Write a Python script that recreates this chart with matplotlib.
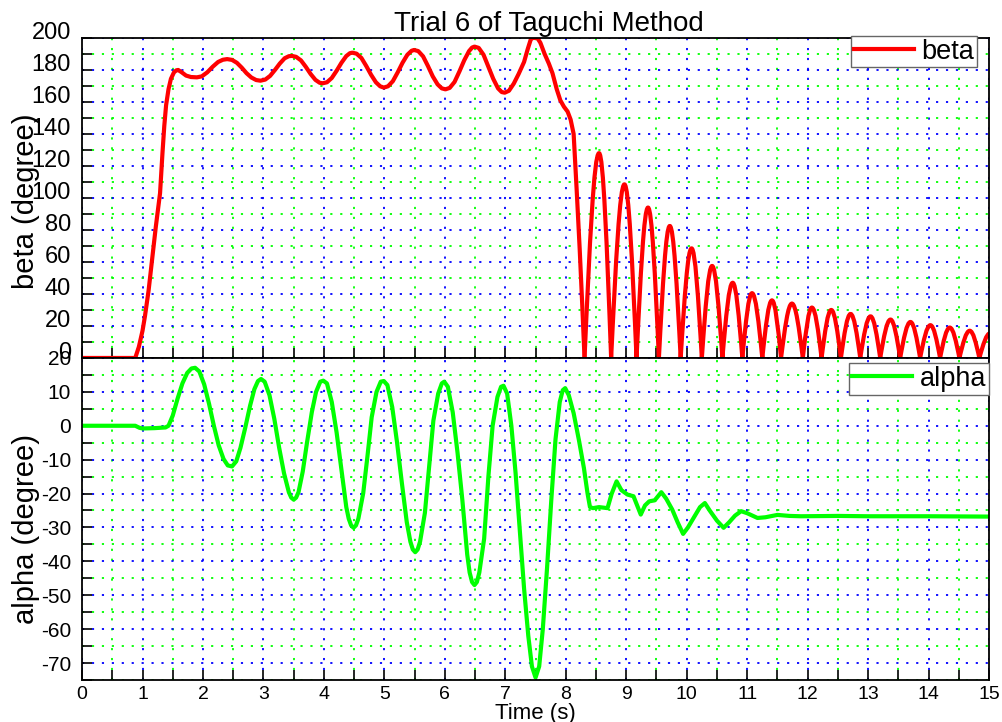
import numpy as np
import matplotlib
matplotlib.use("Agg")
import matplotlib.pyplot as plt
from matplotlib.ticker import MultipleLocator
from matplotlib.path import Path
from matplotlib.patches import PathPatch
from matplotlib import transforms

plt.rcParams['font.family'] = ['Liberation Sans', 'DejaVu Sans']
plt.rcParams['axes.unicode_minus'] = False

# beta: take-off and swinging part (time in s, angle in degree)
beta_t = [0.0, 0.88, 0.94, 1.0, 1.04, 1.10, 1.16, 1.22, 1.29, 1.33, 1.36, 1.39, 1.43,
          1.47, 1.52, 1.56, 1.59, 1.65, 1.72, 1.80, 1.90, 1.98, 2.07, 2.16, 2.25,
          2.33, 2.40, 2.48, 2.56, 2.64, 2.72, 2.80, 2.88, 2.95, 3.03, 3.11, 3.19,
          3.27, 3.35, 3.42, 3.47, 3.54, 3.62, 3.70, 3.78, 3.86, 3.93, 3.98, 4.05,
          4.13, 4.21, 4.29, 4.37, 4.43, 4.47, 4.54, 4.62, 4.70, 4.78, 4.86, 4.93,
          4.99, 5.06, 5.14, 5.22, 5.30, 5.38, 5.45, 5.49, 5.56, 5.64, 5.72, 5.80,
          5.88, 5.95, 6.01, 6.08, 6.16, 6.24, 6.32, 6.40, 6.45, 6.49, 6.56, 6.64,
          6.72, 6.80, 6.88, 6.94, 6.99, 7.06, 7.14, 7.22, 7.31, 7.37, 7.42, 7.45,
          7.53, 7.58, 7.65, 7.72, 7.78, 7.85, 7.91, 7.97, 8.03, 8.08, 8.13, 8.18,
          8.23, 8.27, 8.31]
beta_v = [0, 0, 7, 17, 26, 42, 62, 82, 103, 128, 145, 158, 168,
          174.5, 178.5, 179.8, 180, 178.5, 176.5, 175.6, 175.4, 176, 178.5, 182, 185,
          186.4, 186.8, 186.3, 184.5, 181.5, 178, 175.3, 173.7, 173.3, 174, 176.3, 180,
          184, 187.3, 188.6, 188.8, 188.2, 186, 182, 177.5, 173.8, 172, 171.7, 172.3,
          175, 179.5, 184.5, 188.7, 190.5, 190.8, 190.2, 187.5, 182.5, 177, 172.3, 169.8,
          169, 169.8, 173, 178.5, 184.5, 189.5, 192, 192.5, 191.8, 188.5, 182.5, 176,
          171, 168.5, 167.9, 168.8, 172.5, 179, 186, 191.8, 194, 194.6, 193.8, 189.5,
          182, 174.5, 168.5, 166.2, 165.8, 167, 171.5, 177.5, 185, 193, 199, 200,
          200, 197, 190, 184, 178, 168, 161, 157, 154, 149, 140, 105,
          68, 35, 0]

# beta after 8.3 s: arcs between ground contacts
arc_cusp_t = [8.31, 8.75, 9.17, 9.54, 9.90, 10.25, 10.59, 10.92, 11.25, 11.56, 11.92,
              12.23, 12.55, 12.87, 13.20, 13.53, 13.86, 14.19, 14.51, 14.84, 15.19]
arc_peak_t = [8.55, 8.97, 9.36, 9.72, 10.08, 10.42, 10.76, 11.08, 11.41, 11.74, 12.07,
              12.39, 12.71, 13.04, 13.37, 13.70, 14.03, 14.35, 14.68, 15.02]
arc_peak_v = [128, 108.5, 94, 82.5, 68.5, 57.5, 47, 40.5, 36, 34, 31.5,
              30, 27.5, 26, 24, 22.5, 20.5, 19, 17, 15.5]

# alpha (time in s, angle in degree)
alpha_t = [0.0, 0.88, 0.95, 1.0, 1.2, 1.38, 1.43, 1.5, 1.58, 1.66, 1.74, 1.81, 1.87,
           1.94, 2.02, 2.10, 2.18, 2.26, 2.34, 2.41, 2.48, 2.55, 2.62, 2.70, 2.78,
           2.85, 2.91, 2.96, 3.02, 3.10, 3.18, 3.26, 3.34, 3.42, 3.46, 3.50, 3.54,
           3.58, 3.65, 3.72, 3.80, 3.87, 3.94, 3.99, 4.05, 4.13, 4.21, 4.29, 4.37,
           4.41, 4.45, 4.49, 4.53, 4.57, 4.65, 4.72, 4.79, 4.87, 4.94, 4.99, 5.05,
           5.13, 5.21, 5.29, 5.37, 5.43, 5.47, 5.51, 5.55, 5.59, 5.67, 5.74, 5.81,
           5.89, 5.95, 5.99, 6.05, 6.13, 6.21, 6.29, 6.37, 6.41, 6.45, 6.49, 6.53,
           6.57, 6.65, 6.72, 6.79, 6.87, 6.93, 6.97, 7.03, 7.10, 7.17, 7.24, 7.31,
           7.38, 7.44, 7.50, 7.56, 7.62, 7.69, 7.76, 7.83, 7.90, 7.95, 7.99, 8.05,
           8.13, 8.22, 8.30, 8.36, 8.40, 8.45, 8.55, 8.69, 8.76, 8.84, 8.92, 9.02,
           9.12, 9.24, 9.31, 9.38, 9.47, 9.58, 9.66, 9.76, 9.85, 9.94, 10.02, 10.12,
           10.22, 10.30, 10.38, 10.50, 10.61, 10.70, 10.80, 10.90, 11.0, 11.17, 11.3,
           11.5, 11.7, 11.89, 12.5, 13.0, 14.0, 15.0]
alpha_v = [0, 0, -0.6, -0.8, -0.7, -0.5, 0, 3, 8, 12.5, 15.6, 16.9, 17.1,
           16, 12.2, 6.5, 0, -5.8, -9.8, -11.7, -12, -10.5, -6.5, -0.5, 6,
           10.8, 13.2, 13.8, 13, 9, 2, -6.5, -14, -19.6, -21.2, -21.8, -21.2,
           -19.6, -13.5, -5, 4, 10, 13, 13.3, 12.5, 7, -2, -13, -24,
           -27.4, -29.4, -30.1, -29.4, -27.4, -19.9, -9, 2.5, 10, 13, 13.2, 12,
           5.5, -5, -17, -28.4, -34.2, -36.5, -37.3, -36.5, -34.2, -25.7, -12, 1.5,
           9.5, 12.5, 13, 11.5, 4, -8, -22, -38, -43.3, -46.1, -47, -46.1,
           -43.3, -33.3, -15, 0, 8.5, 11.5, 11.8, 9.5, 0, -14, -31, -48,
           -62, -71, -74.3, -71, -60, -42, -22, -4, 7, 10.5, 11.1, 9,
           3.7, -4.5, -12.5, -20, -24, -24.3, -24, -24.3, -20, -16.4, -19, -20.3,
           -20.8, -26.2, -23.5, -22.3, -22, -19.6, -21.5, -24.7, -28.5, -31.9, -30, -27,
           -24, -22.8, -25, -28, -30.1, -28.5, -26.5, -25.2, -25.8, -27.2, -27,
           -26.3, -26.6, -26.7, -26.6, -26.7, -26.7, -26.8]

RED = (1, 0, 0)
GREEN = (0, 1, 0)
LW = 3.0


def arc_path(cusps, peak_t, peak_v):
    # each arc is two cubic curves: steep off the ground, flat over the top
    verts = [(cusps[0], 0)]
    codes = [Path.MOVETO]
    for i in range(len(peak_t)):
        c0, c1 = cusps[i], cusps[i + 1]
        xp, yp = peak_t[i], peak_v[i]
        wl, wr = xp - c0, c1 - xp
        verts += [(c0 + 0.3516 * wl, 0.5523 * yp), (c0 + 0.6484 * wl, yp), (xp, yp)]
        verts += [(xp + 0.3516 * wr, yp), (xp + 0.6484 * wr, 0.5523 * yp), (c1, 0)]
        codes += [Path.CURVE4] * 6
    return Path(verts, codes)


fig = plt.figure(figsize=(10.03, 7.22), dpi=100)
ax1 = fig.add_axes([0.0818, 0.5042, 0.9043, 0.4432])
ax2 = fig.add_axes([0.0818, 0.0582, 0.9043, 0.446])

dots = (0, (1.2, 4.3))
for ax in (ax1, ax2):
    ax.set_xlim(0, 15)
    ax.xaxis.set_major_locator(MultipleLocator(1))
    ax.xaxis.set_minor_locator(MultipleLocator(0.5))
    ax.grid(which='major', color=(0, 0, 1), linestyle=dots, linewidth=1.3)
    ax.grid(which='minor', color=(0, 1, 0), linestyle=dots, linewidth=1.3)
    ax.set_axisbelow(True)
    ax.tick_params(which='both', direction='in', length=7, width=1.2,
                   top=False, right=False)
    ax.tick_params(axis='x', labelsize=14, pad=4)
    ax.tick_params(axis='y', pad=8)
    for s in ax.spines.values():
        s.set_linewidth(1.3)

ax1.plot(beta_t, beta_v, color=RED, linewidth=LW, label='beta',
         solid_joinstyle='round')
ax1.add_patch(PathPatch(arc_path(arc_cusp_t, arc_peak_t, arc_peak_v), fill=False,
                        edgecolor=RED, linewidth=LW, joinstyle='round'))
ax1.set_ylim(0, 200)
ax1.yaxis.set_major_locator(MultipleLocator(20))
ax1.yaxis.set_minor_locator(MultipleLocator(10))
ax1.tick_params(axis='x', which='both', labelbottom=False)
ax1.tick_params(axis='y', labelsize=17)
ax1.set_ylabel('beta (degree)', fontsize=21)
ax1.yaxis.set_label_coords(-0.046, 0.49)
ax1.set_title('Trial 6 of Taguchi Method', fontsize=20, pad=5, x=0.515)
ax1.legend(loc='upper right', bbox_to_anchor=(0.987, 1.006), borderaxespad=0,
           fontsize=19.5, fancybox=False, framealpha=1, edgecolor='0.4',
           handlelength=2.2, handletextpad=0.3, borderpad=0.1)

# the upper axis has its labels sitting a bit above the ticks
shift = transforms.ScaledTranslation(0, 5.5 / 72, fig.dpi_scale_trans)
for lab in ax1.get_yticklabels():
    lab.set_transform(lab.get_transform() + shift)

ax2.plot(alpha_t, alpha_v, color=GREEN, linewidth=LW, label='alpha',
         solid_joinstyle='round')
ax2.set_ylim(-75, 20)
ax2.yaxis.set_major_locator(MultipleLocator(10))
ax2.yaxis.set_minor_locator(MultipleLocator(5))
ax2.tick_params(axis='y', labelsize=15)
ax2.set_ylabel('alpha (degree)', fontsize=21)
ax2.yaxis.set_label_coords(-0.046, 0.47)
ax2.set_xlabel('Time (s)', fontsize=16, labelpad=0)
ax2.legend(loc='upper right', bbox_to_anchor=(1.0, 0.984), borderaxespad=0,
           fontsize=19.5, fancybox=False, framealpha=1, edgecolor='0.4',
           handlelength=2.2, handletextpad=0.3, borderpad=0.1)

fig.savefig('out.png', dpi=100)
